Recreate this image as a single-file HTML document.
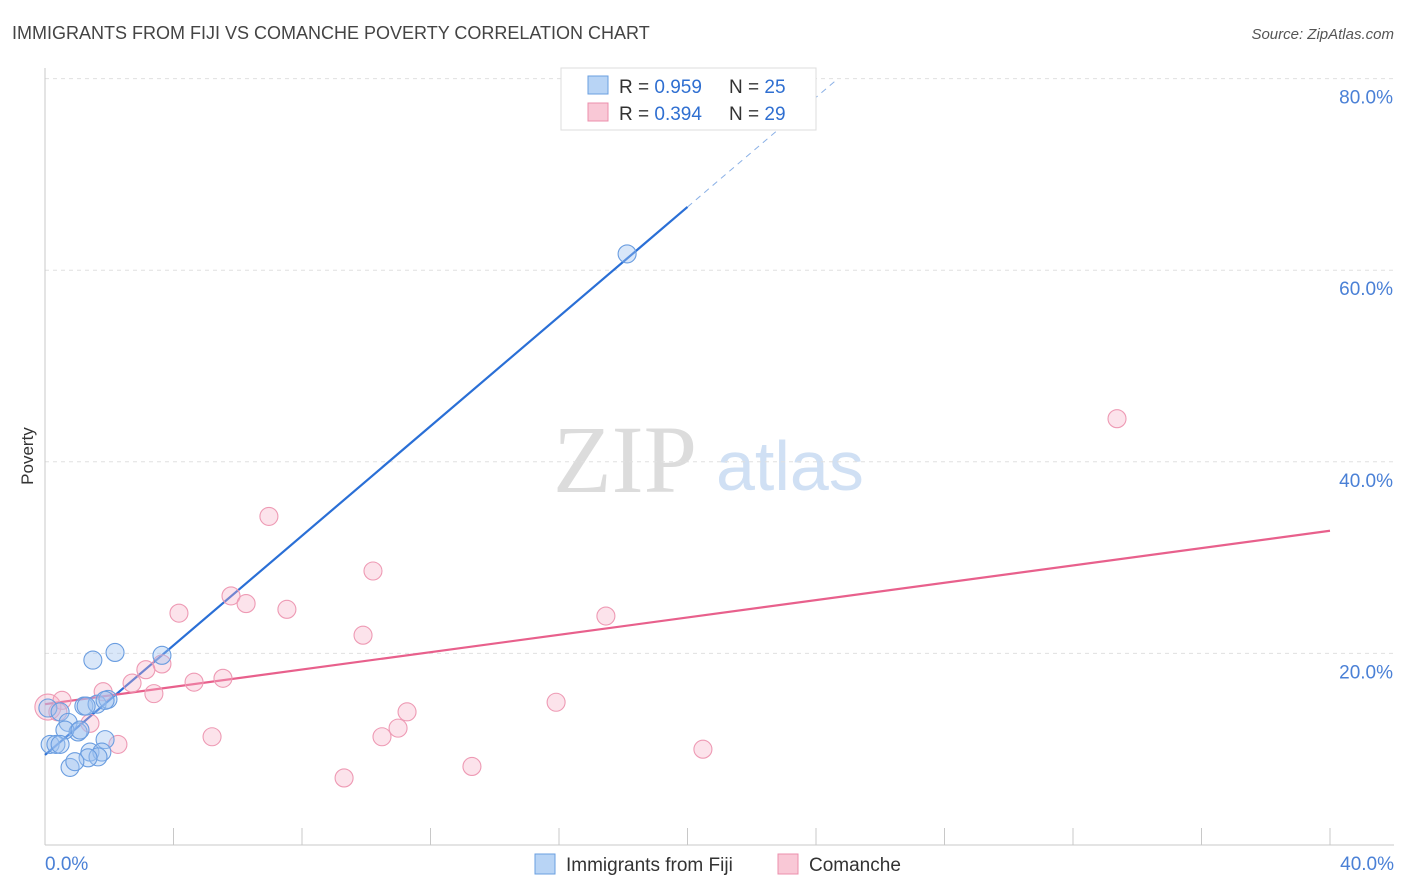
<!DOCTYPE html>
<html><head><meta charset="utf-8"><style>
body{margin:0;background:#fff;font-family:"Liberation Sans",sans-serif}
#wrap{position:relative;width:1406px;height:892px;overflow:hidden}
</style></head><body>
<div id="wrap">
<svg id="chart" width="1406" height="892" xmlns="http://www.w3.org/2000/svg">
<text x="12" y="39" font-size="18" fill="#444">IMMIGRANTS FROM FIJI VS COMANCHE POVERTY CORRELATION CHART</text>
<text x="1394" y="39" font-size="15" fill="#555" text-anchor="end" font-style="italic">Source: ZipAtlas.com</text>
<text x="33" y="456" font-size="17" fill="#333" text-anchor="middle" transform="rotate(-90 33 456)">Poverty</text>
<text x="553" y="492" font-size="96" fill="#dcdcdc" font-family="Liberation Serif,serif">ZIP</text>
<text x="716" y="490" font-size="70" fill="#d0e0f4">atlas</text>
<g id="grid"></g><g id="axes"></g><g id="lines"></g><g id="pts"></g>
<g>
<rect x="561" y="68" width="255" height="62" fill="#fff" stroke="#ddd"/>
<rect x="588" y="76" width="20" height="18" fill="#b8d4f5" stroke="#6a9fe0"/>
<text x="619" y="93" font-size="19" fill="#333">R = <tspan fill="#2f6fd1">0.959</tspan></text>
<text x="729" y="93" font-size="19" fill="#333">N = <tspan fill="#2f6fd1">25</tspan></text>
<rect x="588" y="103" width="20" height="18" fill="#f9c8d6" stroke="#ec8fac"/>
<text x="619" y="120" font-size="19" fill="#333">R = <tspan fill="#2f6fd1">0.394</tspan></text>
<text x="729" y="120" font-size="19" fill="#333">N = <tspan fill="#2f6fd1">29</tspan></text>
</g>
<g>
<rect x="535" y="854" width="20" height="20" fill="#b8d4f5" stroke="#6a9fe0"/>
<text x="566" y="871" font-size="19" fill="#333">Immigrants from Fiji</text>
<rect x="778" y="854" width="20" height="20" fill="#f9c8d6" stroke="#ec8fac"/>
<text x="809" y="871" font-size="19" fill="#333">Comanche</text>
</g>
</svg>
</div>
<script>
const yTicks=[20,40,60,80];
const xTickLabels=["0.0%","40.0%"];
const fijiX=[1.49,2.18,3.64,18.12,0.09,0.47,0.72,1.21,1.62,1.96,1.03,0.62,0.16,0.34,0.47,1.87,1.40,1.77,1.65,1.34,0.78,0.93,1.09,1.28,1.87];
const fijiY=[19.3,20.1,19.8,61.7,14.3,13.9,12.8,14.5,14.7,15.2,11.8,12.0,10.5,10.5,10.5,11.0,9.7,9.7,9.2,9.1,8.1,8.7,12.0,14.5,15.1];
const comX=[33.37,6.97,10.21,5.79,6.26,7.53,4.17,17.46,9.90,3.64,3.14,2.71,4.64,5.54,3.39,1.81,0.09,0.53,0.40,1.40,15.91,11.27,10.99,10.49,5.20,2.27,20.48,9.31,13.29];
const comY=[44.5,34.3,28.6,26.0,25.2,24.6,24.2,23.9,21.9,18.9,18.3,16.9,17.0,17.4,15.8,16.0,14.4,15.1,13.9,12.7,14.9,13.9,12.2,11.3,11.3,10.5,10.0,7.0,8.2];
const fijiLine=[9.4,66.6]; // y at x=0 and x=20
const comLine=[14.7,32.8]; // y at x=0 and x=40
const NS="http://www.w3.org/2000/svg";
const X=v=>45+v*32.125, Y=v=>845-v*9.58;
function mk(p,t,a){const e=document.createElementNS(NS,t);for(const k in a)e.setAttribute(k,a[k]);document.getElementById(p).appendChild(e);return e;}
yTicks.forEach(t=>{
 const l=mk('grid','line',{x1:45,x2:1394,y1:Y(t),y2:Y(t),stroke:'#e0e0e0','stroke-dasharray':'4,4'});
 
 
 const tx=mk('grid','text',{x:1393,y:Y(t)+25,'font-size':19,fill:'#4a80d6','text-anchor':'end'});
 tx.textContent=t.toFixed(1)+'%';
 
 
});
let a=mk('axes','line',{x1:45,x2:45,y1:68,y2:845,stroke:'#c8c8c8'});


a=mk('axes','line',{x1:45,x2:1394,y1:845,y2:845,stroke:'#c8c8c8'});


for(let i=0;i<=10;i++){const t=mk('axes','line',{x1:X(i*4),x2:X(i*4),y1:828,y2:845,stroke:'#c8c8c8'});
 
 }
[[0,'start',X(0)],[1,'end',1394]].forEach(([i,anc,x])=>{const t=mk('axes','text',{x:x,y:870,'font-size':19,fill:'#4a80d6','text-anchor':anc});t.textContent=xTickLabels[i];
 
 });
function dot(x,y,f,s,r){const c=mk('pts','circle',{cx:X(x),cy:Y(y),r:r,fill:f,stroke:s,'stroke-width':1.1});return c;}
comX.forEach((x,i)=>{const c=dot(x,comY[i],'rgba(246,176,198,0.35)','#ee9ab4',i==16?13:9);
 
 });
fijiX.forEach((x,i)=>{const c=dot(x,fijiY[i],'rgba(160,196,240,0.4)','#6a9de0',9);
 
 });
const slope=(fijiLine[1]-fijiLine[0])/20;
let l=mk('lines','line',{x1:X(0),y1:Y(fijiLine[0]),x2:X(20),y2:Y(fijiLine[1]),stroke:'#2a6fd6','stroke-width':2.2});


const xe=(80-fijiLine[0])/slope;
l=mk('lines','line',{x1:X(20),y1:Y(fijiLine[1]),x2:X(xe),y2:Y(80),stroke:'#8ab0e6','stroke-width':1,'stroke-dasharray':'6,5'});


l=mk('lines','line',{x1:X(0),y1:Y(comLine[0]),x2:X(40),y2:Y(comLine[1]),stroke:'#e8608c','stroke-width':2.2});


</script>
</body></html>
